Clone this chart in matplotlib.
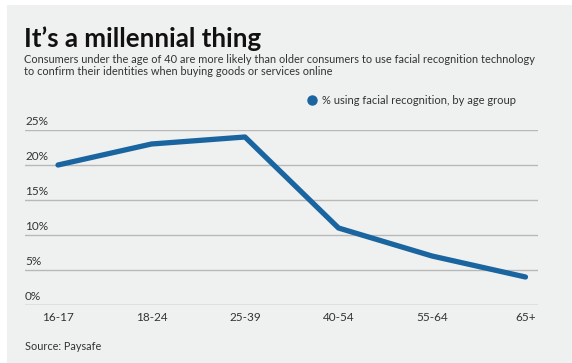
import matplotlib
matplotlib.use("Agg")
import matplotlib.pyplot as plt
from matplotlib.patches import Rectangle
from matplotlib.transforms import blended_transform_factory

age_groups = ["16-17", "18-24", "25-39", "40-54", "55-64", "65+"]
pct_facial = [20, 23, 24, 11, 7, 4]
y_ticks = [0, 5, 10, 15, 20, 25]
y_tick_labels = ["0%", "5%", "10%", "15%", "20%", "25%"]

FONT = ["Lato", "DejaVu Sans"]
plt.rcParams["font.family"] = FONT

W, H = 572, 363
fig = plt.figure(figsize=(W / 100, H / 100), dpi=100)
fig.patch.set_facecolor("white")
# grey panel
fig.patches.append(Rectangle((7 / W, 0), 1 - 7 / W, 1 - 5 / H, transform=fig.transFigure,
                             facecolor="#eff0f0", edgecolor="none", zorder=-5))

ax = fig.add_axes([25 / W, 1 - 305 / H, 513 / W, 175 / H])
ax.set_facecolor("none")
x = list(range(len(age_groups)))
ax.set_xlim(-0.353, 5.134)
ax.set_ylim(0, 25)
for s in ax.spines.values():
    s.set_visible(False)
for v in y_ticks:
    ax.axhline(v, color="#9a9a9a" if v == 0 else "#b8b8b8", lw=1.0, zorder=1)
ax.plot(x, pct_facial, color="#1a65a0", lw=3.8, solid_capstyle="round",
        solid_joinstyle="round", zorder=3, clip_on=False)
ax.set_yticks([])
ax.set_xticks(x)
ax.set_xticklabels(age_groups, fontsize=8.5, color="#333333")
ax.tick_params(axis="x", length=0, pad=5)
tr = blended_transform_factory(ax.transAxes, ax.transData)
for v, lab in zip(y_ticks, y_tick_labels):
    ax.text(0, v + 0.45, lab, transform=tr, ha="left", va="bottom", fontsize=8.5, color="#333333")

fig.text(24 / W, 1 - 47 / H, "It\u2019s a millennial thing", fontsize=18.6, fontweight="bold",
         color="#111111", ha="left", va="baseline")
fig.text(24 / W, 1 - 63 / H,
         "Consumers under the age of 40 are more likely than older consumers to use facial recognition technology",
         fontsize=7.9, color="#333333", ha="left", va="baseline")
fig.text(24 / W, 1 - 75 / H,
         "to confirm their identities when buying goods or services online",
         fontsize=7.9, color="#333333", ha="left", va="baseline")
# legend
fig.lines.append(plt.Line2D([312 / W], [1 - 100 / H], marker="o", markersize=6.5, color="#1a65a0",
                            transform=fig.transFigure, linestyle="none"))
fig.text(322 / W, 1 - 100 / H, "% using facial recognition, by age group", fontsize=8.0,
         color="#333333", ha="left", va="center")
fig.text(25 / W, 1 - 350 / H, "Source: Paysafe", fontsize=7.8, color="#333333", ha="left", va="baseline")

fig.savefig("out.png", dpi=100, facecolor=fig.get_facecolor())
